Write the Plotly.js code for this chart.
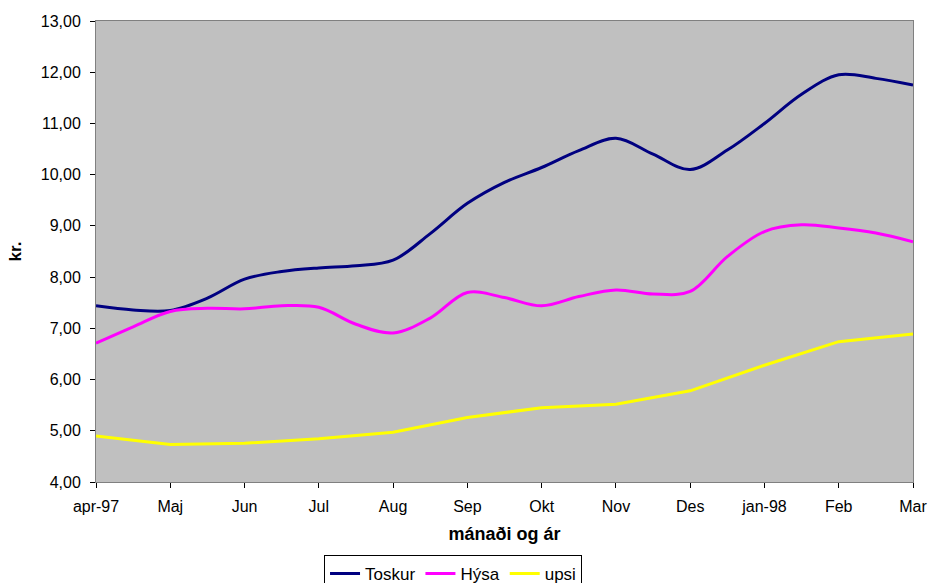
<!DOCTYPE html>
<html>
<head>
<meta charset="utf-8">
<script src="https://cdn.plot.ly/plotly-3.0.1.min.js"></script>
<style>html,body{margin:0;padding:0;background:#fff;}#chart{width:930px;height:583px;}</style>
</head>
<body>
<div id="chart"></div>
<script>
// Month tick labels
var monthLabels = ["apr-97","Maj","Jun","Jul","Aug","Sep","Okt","Nov","Des","jan-98","Feb","Mar"];

// Toskur and Hýsa read at half-month steps (23 readings, apr-97 .. Mar)
var toskur = [7.44,7.36,7.35,7.59,7.96,8.11,8.18,8.22,8.33,8.85,9.44,9.85,10.14,10.47,10.71,10.40,10.10,10.48,11.00,11.57,11.95,11.88,11.75];
var hysa   = [6.71,7.03,7.33,7.39,7.38,7.44,7.41,7.08,6.91,7.20,7.70,7.60,7.44,7.62,7.75,7.67,7.72,8.40,8.89,9.02,8.96,8.86,8.69];
// upsi read monthly
var upsi   = [4.90,4.73,4.755,4.845,4.97,5.26,5.45,5.52,5.78,6.28,6.74,6.89];

var halfIdx = toskur.map(function(_, i){ return i / 2; });
var monthIdx = monthLabels.map(function(_, i){ return i; });

var font = "Liberation Sans, Arial, sans-serif";

var traces = [
  {x: halfIdx, y: toskur, name: "Toskur", type: "scatter", mode: "lines",
   line: {color: "#000080", width: 3, shape: "spline", smoothing: 1}},
  {x: halfIdx, y: hysa, name: "Hýsa", type: "scatter", mode: "lines",
   line: {color: "#ff00ff", width: 3, shape: "spline", smoothing: 1}},
  {x: monthIdx, y: upsi, name: "upsi", type: "scatter", mode: "lines",
   line: {color: "#ffff00", width: 3}}
];

var layout = {
  width: 930, height: 583,
  margin: {l: 96, r: 17, t: 21, b: 101, autoexpand: false},
  paper_bgcolor: "#ffffff",
  plot_bgcolor: "#c0c0c0",
  separators: ",.",
  font: {family: font, size: 16, color: "#000"},
  showlegend: true,
  legend: {
    orientation: "h", x: 0.437, xanchor: "center", y: -0.158, yanchor: "top",
    bordercolor: "#000", borderwidth: 1, bgcolor: "#fff",
    font: {family: font, size: 17, color: "#000"},
    itemwidth: 30, tracegroupgap: 0
  },
  xaxis: {
    range: [0, 11],
    tickmode: "array", tickvals: monthIdx, ticktext: monthLabels,
    ticks: "outside", ticklen: 5, tickcolor: "#000",
    ticklabelstandoff: 5,
    showgrid: false, zeroline: false,
    showline: true, linecolor: "#808080", linewidth: 1, mirror: true,
    tickfont: {family: font, size: 16, color: "#000"},
    title: {text: "<b>mánaði og ár</b>", font: {family: font, size: 18, color: "#000"}, standoff: 13}
  },
  yaxis: {
    range: [4, 13], dtick: 1, tickformat: ".2f",
    ticks: "outside", ticklen: 5, tickcolor: "#000",
    ticklabelstandoff: 6,
    showgrid: false, zeroline: false,
    showline: true, linecolor: "#808080", linewidth: 1, mirror: true,
    tickfont: {family: font, size: 16, color: "#000"},
    title: {text: "<b>kr.</b>", font: {family: font, size: 17, color: "#000"}, standoff: 14}
  }
};

Plotly.newPlot("chart", traces, layout, {displayModeBar: false, staticPlot: true});
</script>
</body>
</html>
